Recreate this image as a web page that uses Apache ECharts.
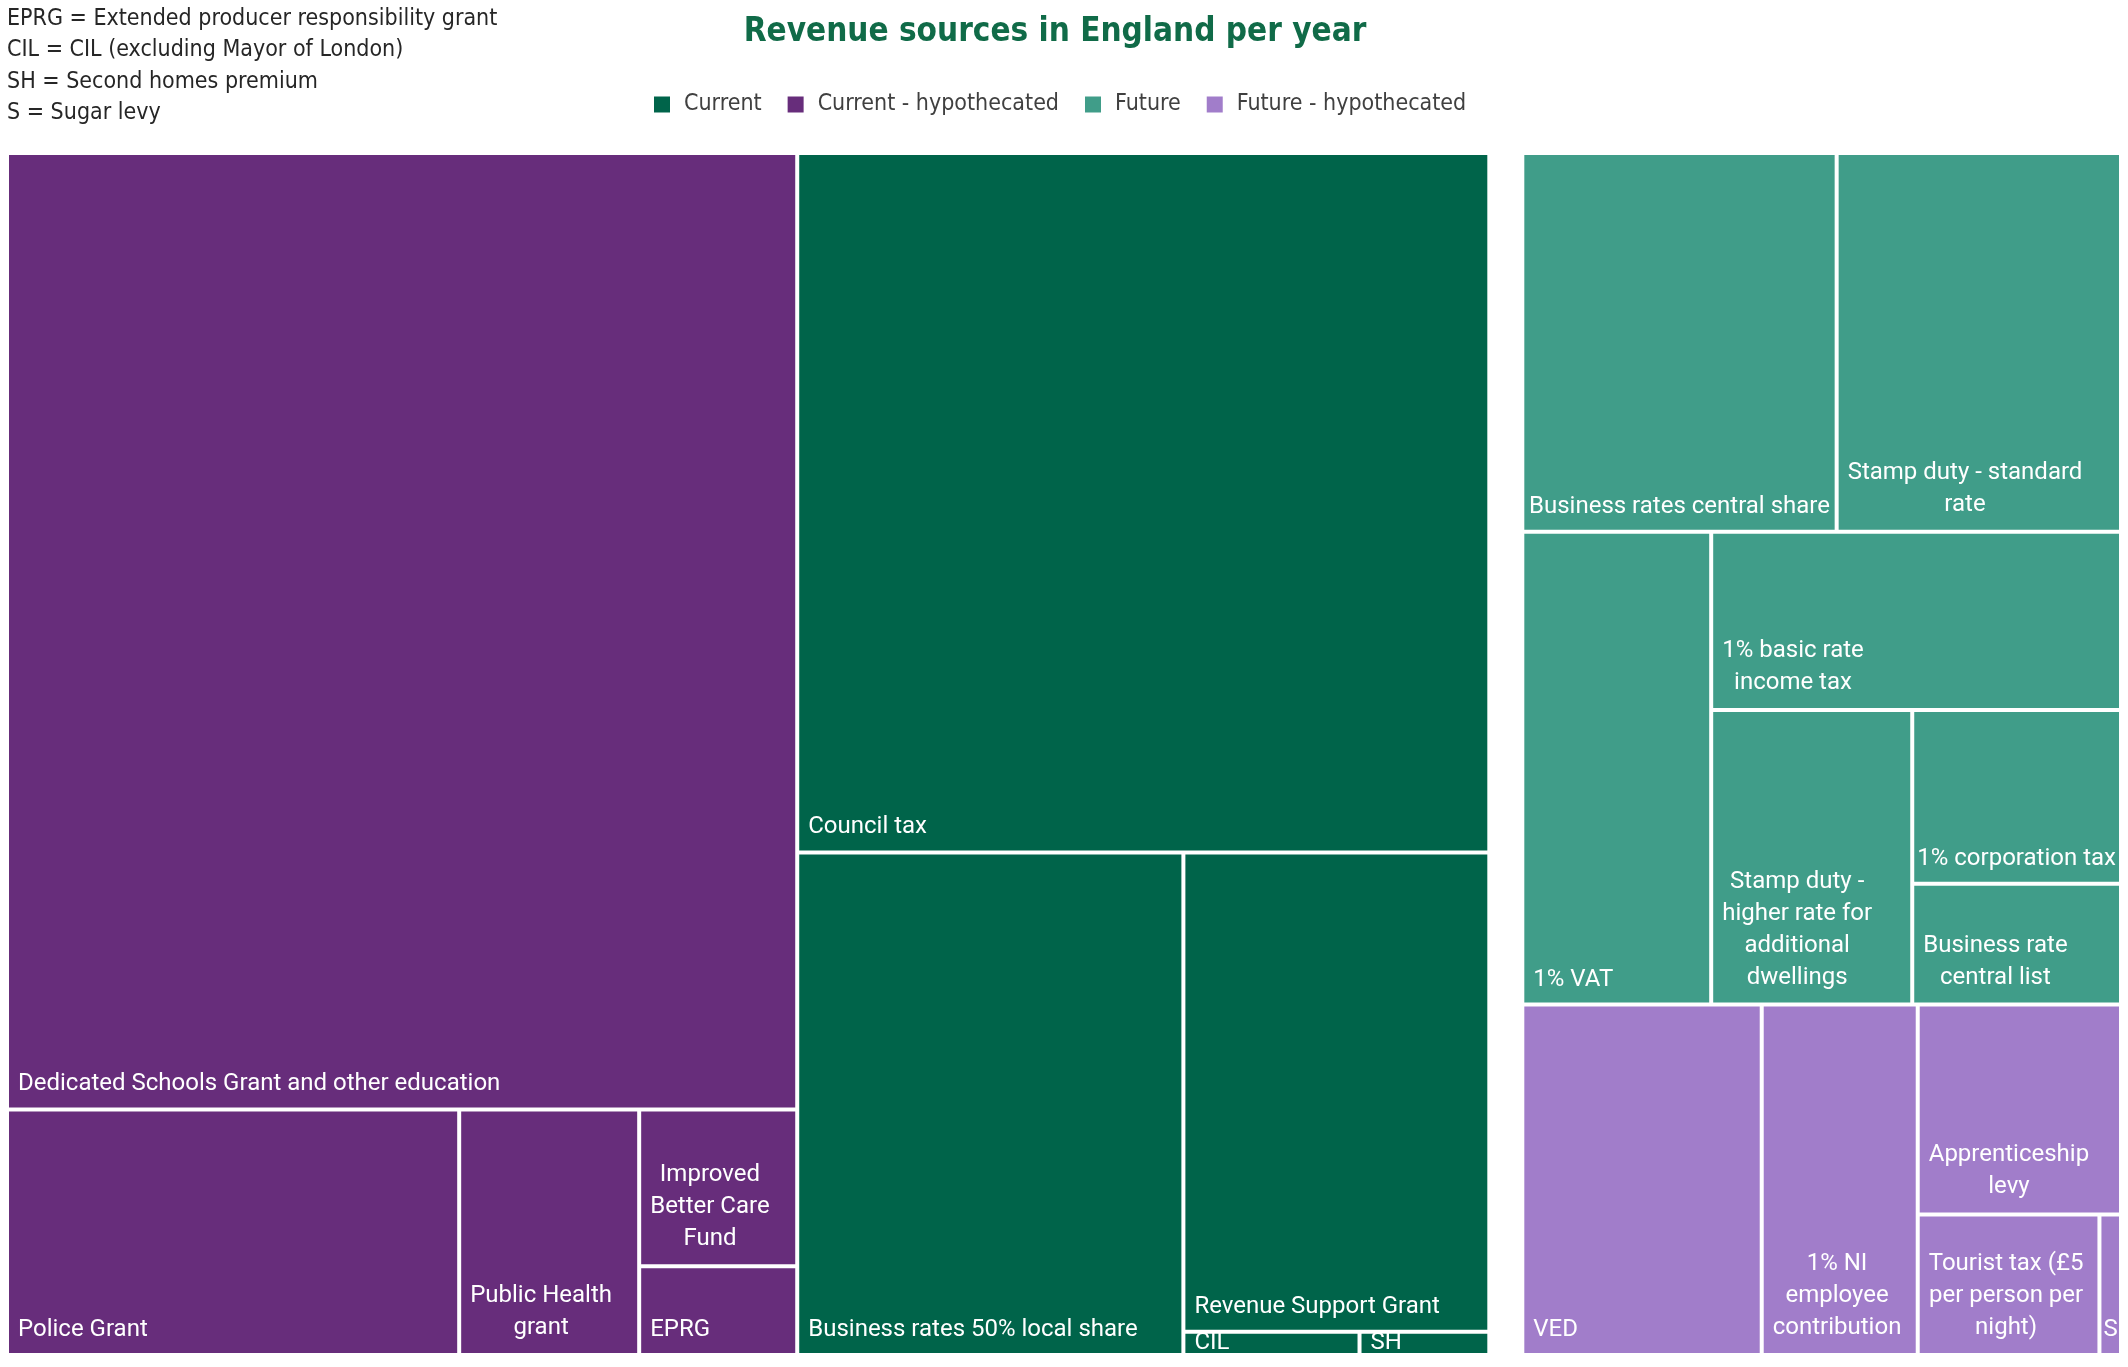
<!DOCTYPE html>
<html>
<head>
<meta charset="utf-8">
<title>Revenue sources in England per year</title>
<script src="https://cdn.jsdelivr.net/npm/echarts@6/dist/echarts.min.js"></script>
<style>
  html, body { margin: 0; padding: 0; background: #fff; }
  #chart { width: 2128px; height: 1367px; }
</style>
</head>
<body>
<div id="chart"></div>
<script>
// top level groups
var groups = ['Current', 'Current - hypothecated', 'Future', 'Future - hypothecated'];
var groupColors = ['#00644a', '#672d7b', '#409d89', '#a17dca'];

// £bn per year
var currentNames = ['Council tax', 'Business rates 50% local share', 'Revenue Support Grant', 'CIL', 'SH'];
var currentValues = [44.9, 18.0, 13.6, 0.38, 0.28];

var currentHypNames = ['Dedicated Schools Grant and other education', 'Police Grant', 'Public Health grant',
  'Improved Better Care Fund', 'EPRG'];
var currentHypValues = [70.1, 10.3, 4.1, 2.3, 1.3];

var futureNames = ['Business rates central share', 'Stamp duty - standard rate', '1% VAT', '1% basic rate income tax',
  'Stamp duty - higher rate for additional dwellings', '1% corporation tax', 'Business rate central list'];
var futureValues = [11.0, 9.95, 8.25, 6.75, 5.47, 3.35, 2.33];

var futureHypNames = ['VED', '1% NI employee contribution', 'Apprenticeship levy',
  'Tourist tax (£5 per person per night)', 'S'];
var futureHypValues = [7.75, 5.05, 3.94, 2.36, 0.28];

// labels that wrap onto several lines
var wrapped = {
  'Public Health grant': 'Public Health\ngrant',
  'Improved Better Care Fund': 'Improved\nBetter Care\nFund',
  'Stamp duty - standard rate': 'Stamp duty - standard\nrate',
  '1% basic rate income tax': '1% basic rate\nincome tax',
  'Stamp duty - higher rate for additional dwellings': 'Stamp duty -\nhigher rate for\nadditional\ndwellings',
  'Business rate central list': 'Business rate\ncentral list',
  'Apprenticeship levy': 'Apprenticeship\nlevy',
  '1% NI employee contribution': '1% NI\nemployee\ncontribution',
  'Tourist tax (£5 per person per night)': 'Tourist tax (£5\nper person per\nnight)'
};

var notes = 'EPRG = Extended producer responsibility grant\nCIL = CIL (excluding Mayor of London)\n' +
  'SH = Second homes premium\nS = Sugar levy';

var narrow = "'Liberation Sans Narrow', 'DejaVu Sans Condensed', Roboto, sans-serif";
var cellFont = 24;
var lineH = 32;

function sum(a) { return a.reduce(function (s, v) { return s + v; }, 0); }

function leaves(names, values) {
  return names.map(function (n, i) {
    return { name: n, value: values[i], label: { lineHeight: wrapped[n] ? lineH : 18 } };
  });
}

function group(i, names, values) {
  return { name: groups[i], itemStyle: { color: groupColors[i] }, children: leaves(names, values) };
}

// measure text so wrapped lines can be centred in a left anchored block
var ctx = document.createElement('canvas').getContext('2d');
ctx.font = cellFont + 'px Roboto';
function textW(s) { return ctx.measureText(s).width; }

// labels sit at the bottom of each cell, like the Excel treemap
function placeLabel(p) {
  var lines = String(p.text || '').split('\n');
  var r = p.rect;
  var bottom = r.y + r.height;
  var w = Math.max.apply(null, lines.map(textW));
  var pad = Math.min(9, Math.max(2, (r.width - w) / 2));
  if (lines.length < 2) {
    return { x: r.x + pad, y: Math.max(r.y, bottom - 32), align: 'left', verticalAlign: 'top' };
  }
  return {
    x: r.x + pad + w / 2,
    y: bottom - 41 - (lines.length - 1) * lineH,
    align: 'center',
    verticalAlign: 'top'
  };
}

var plotLeft = 9, plotRight = 2119, plotTop = 155, plotBottom = 1353, seriesGap = 37;
var currentTotal = sum(currentValues) + sum(currentHypValues);
var futureTotal = sum(futureValues) + sum(futureHypValues);
var avail = plotRight - plotLeft - seriesGap;
var leftW = avail * currentTotal / (currentTotal + futureTotal);
var rightW = avail - leftW;

function treemap(name, data, left, width) {
  return {
    type: 'treemap',
    name: name,
    left: left,
    top: plotTop,
    width: width,
    height: plotBottom - plotTop,
    squareRatio: 0.73,
    roam: false,
    nodeClick: false,
    breadcrumb: { show: false },
    label: {
      show: true,
      position: 'insideTopLeft',
      distance: 0,
      padding: 0,
      overflow: 'none',
      color: '#fff',
      fontFamily: 'Roboto',
      fontSize: cellFont,
      formatter: function (p) { return wrapped[p.name] || p.name; }
    },
    labelLayout: placeLabel,
    upperLabel: { show: false },
    levels: [
      { itemStyle: { borderWidth: 0, gapWidth: 4, borderColor: '#fff' } },
      { itemStyle: { borderWidth: 0, gapWidth: 4, borderColor: '#fff' } },
      { itemStyle: { borderWidth: 0, gapWidth: 0 } }
    ],
    data: data
  };
}

var chart = echarts.init(document.getElementById('chart'));

var option = {
  animation: false,
  backgroundColor: '#fff',
  title: [
    {
      text: '{t|Revenue sources in England per year}',
      left: 700,
      top: 11,
      textStyle: {
        rich: {
          t: { width: 700, align: 'center', fontFamily: narrow, fontWeight: 'bold', fontSize: 33, color: '#106b48' }
        }
      }
    },
    {
      text: notes,
      left: 2,
      top: -2,
      textStyle: { fontFamily: narrow, fontWeight: 'normal', fontSize: 23, lineHeight: 31.5, color: '#262626' }
    }
  ],
  legend: {
    data: groups,
    left: 649,
    top: 88,
    icon: 'rect',
    itemWidth: 16,
    itemHeight: 16,
    itemGap: 26,
    textStyle: { fontFamily: narrow, fontSize: 23, color: '#404040', padding: [0, 0, 0, 9] }
  },
  grid: { show: false, left: -10, top: -10, width: 1, height: 1 },
  xAxis: { show: false, type: 'category', data: [] },
  yAxis: { show: false, type: 'value' },
  series: [
    treemap('current', [
      group(1, currentHypNames, currentHypValues),
      group(0, currentNames, currentValues)
    ], plotLeft, leftW),
    treemap('future', [
      group(2, futureNames, futureValues),
      group(3, futureHypNames, futureHypValues)
    ], plotLeft + leftW + seriesGap, rightW)
  ].concat(groups.map(function (g, i) {
    return { type: 'bar', name: g, data: [], itemStyle: { color: groupColors[i] } };
  }))
};

chart.setOption(option);
</script>
</body>
</html>
